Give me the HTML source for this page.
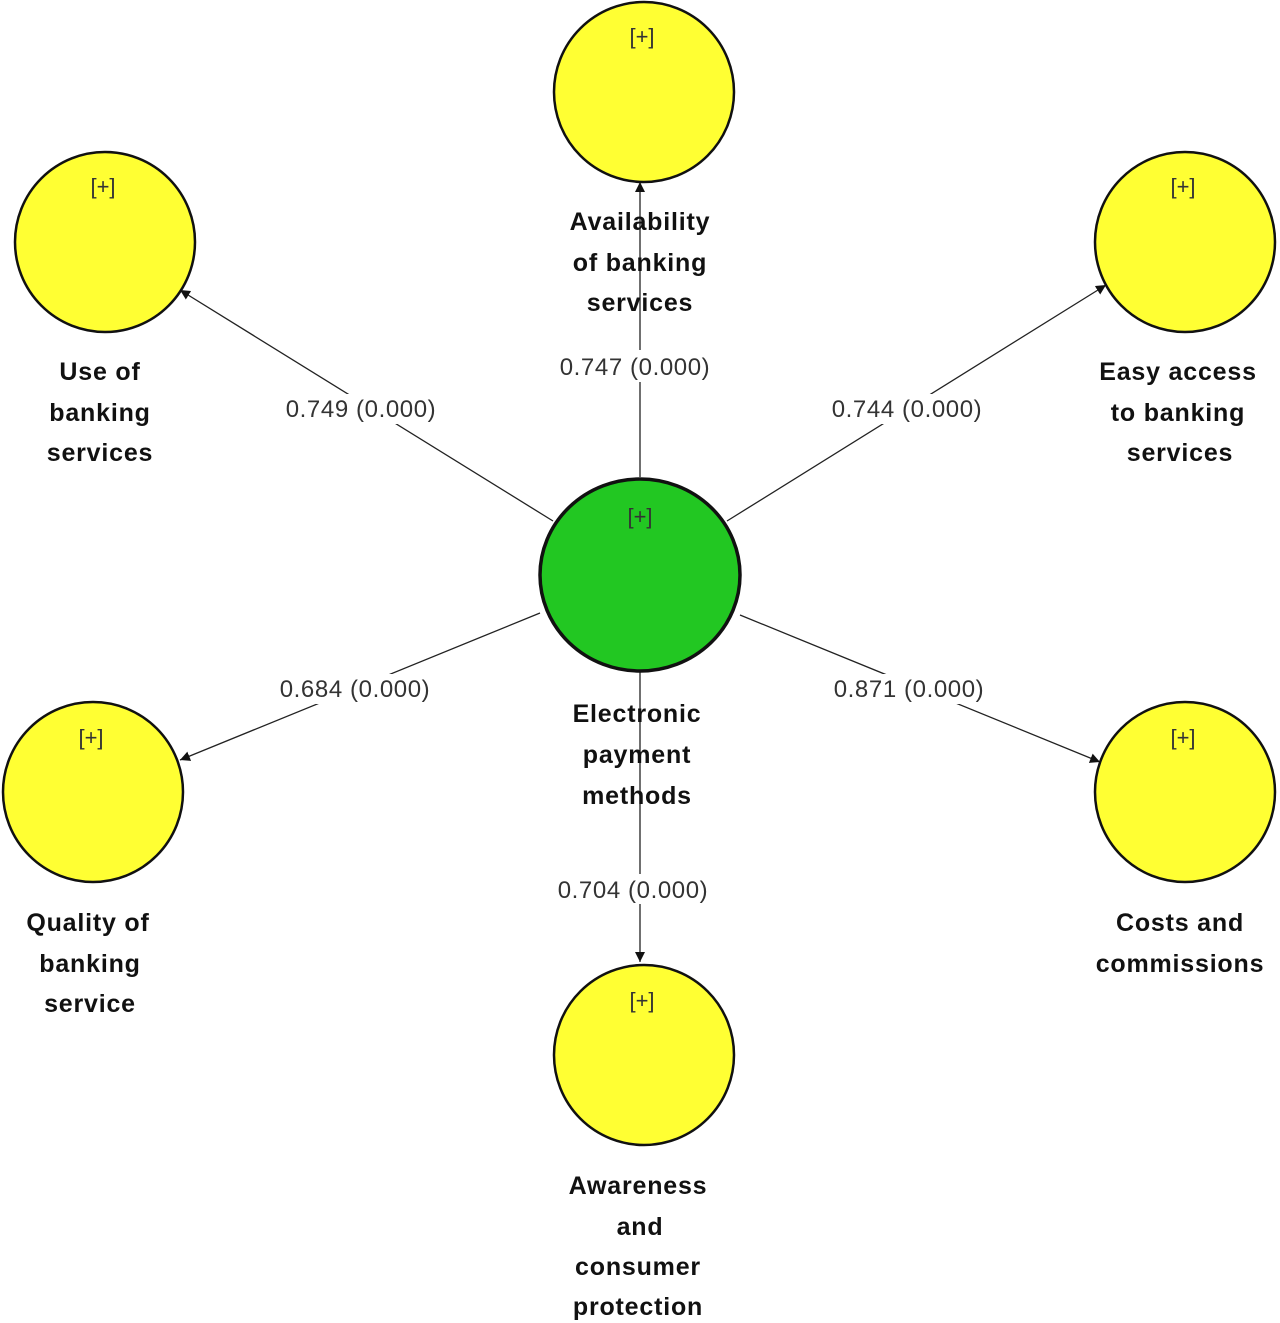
<!DOCTYPE html>
<html><head><meta charset="utf-8"><style>
html,body{margin:0;padding:0;background:#fff;}
svg{display:block;}
.lb{font-family:"Liberation Sans",sans-serif;font-weight:bold;font-size:25px;letter-spacing:0.8px;fill:#111;text-anchor:middle;}
.nm{font-family:"Liberation Sans",sans-serif;font-size:24px;letter-spacing:0.6px;fill:#333;text-anchor:middle;}
.pl{font-family:"Liberation Sans",sans-serif;font-size:22px;fill:#333;text-anchor:middle;}
</style></head><body>
<svg width="1280" height="1323" viewBox="0 0 1280 1323" xmlns="http://www.w3.org/2000/svg">
<defs><marker id="a" viewBox="0 0 10 10" refX="10" refY="5" markerWidth="10" markerHeight="10" markerUnits="userSpaceOnUse" orient="auto"><path d="M0,0 L10,5 L0,10 z" fill="#111"/></marker></defs>
<g stroke="#222" stroke-width="1.3" fill="none">
<line x1="640" y1="477" x2="640" y2="182" marker-end="url(#a)"/>
<line x1="553" y1="521" x2="180" y2="290" marker-end="url(#a)"/>
<line x1="727" y1="521" x2="1106" y2="285" marker-end="url(#a)"/>
<line x1="540" y1="613" x2="180" y2="760" marker-end="url(#a)"/>
<line x1="740" y1="615" x2="1100" y2="762" marker-end="url(#a)"/>
<line x1="640" y1="670" x2="640" y2="962" marker-end="url(#a)"/>
</g>
<g fill="#fff">
<rect x="550" y="350" width="170" height="32"/>
<rect x="278" y="394" width="166" height="30"/>
<rect x="824" y="394" width="166" height="30"/>
<rect x="272" y="674" width="166" height="30"/>
<rect x="826" y="674" width="166" height="30"/>
<rect x="550" y="874" width="166" height="30"/>
</g>
<g fill="#ffff33" stroke="#111" stroke-width="2.5">
<circle cx="644" cy="92" r="90"/>
<circle cx="105" cy="242" r="90"/>
<circle cx="1185" cy="242" r="90"/>
<circle cx="93" cy="792" r="90"/>
<circle cx="1185" cy="792" r="90"/>
<circle cx="644" cy="1055" r="90"/>
</g>
<ellipse cx="640" cy="575" rx="100" ry="96" fill="#22c722" stroke="#111" stroke-width="3.5"/>
<g class="pl">
<text x="642" y="44">[+]</text>
<text x="103" y="194">[+]</text>
<text x="1183" y="194">[+]</text>
<text x="640" y="524">[+]</text>
<text x="91" y="745">[+]</text>
<text x="1183" y="745">[+]</text>
<text x="642" y="1008">[+]</text>
</g>
<g class="nm">
<text x="635" y="375">0.747 (0.000)</text>
<text x="361" y="417">0.749 (0.000)</text>
<text x="907" y="417">0.744 (0.000)</text>
<text x="355" y="697">0.684 (0.000)</text>
<text x="909" y="697">0.871 (0.000)</text>
<text x="633" y="898">0.704 (0.000)</text>
</g>
<g class="lb">
<text x="640" y="230">Availability</text><text x="640" y="271">of banking</text><text x="640" y="311">services</text>
<text x="100" y="380">Use of</text><text x="100" y="421">banking</text><text x="100" y="461">services</text>
<text x="1178" y="380">Easy access</text><text x="1178" y="421">to banking</text><text x="1180" y="461">services</text>
<text x="637" y="722">Electronic</text><text x="637" y="763">payment</text><text x="637" y="804">methods</text>
<text x="88" y="931">Quality of</text><text x="90" y="972">banking</text><text x="90" y="1012">service</text>
<text x="1180" y="931">Costs and</text><text x="1180" y="972">commissions</text>
<text x="638" y="1194">Awareness</text><text x="640" y="1235">and</text><text x="638" y="1275">consumer</text><text x="638" y="1315">protection</text>
</g>
</svg>
</body></html>
